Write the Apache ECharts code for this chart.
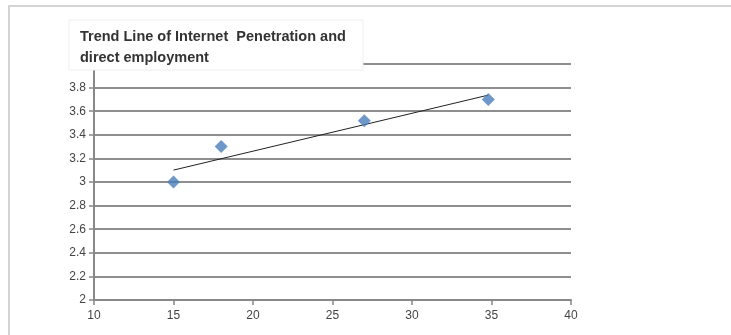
<!DOCTYPE html>
<html>
<head>
<meta charset="utf-8">
<script src="https://cdn.jsdelivr.net/npm/echarts@6/dist/echarts.min.js"></script>
<style>
  html, body { margin: 0; padding: 0; background: #fff; }
  #chart { width: 731px; height: 335px; }
</style>
</head>
<body>
<div id="chart"></div>
<script>
// Internet penetration (x) vs direct employment (y)
const penetration = [15, 18, 27, 34.8];
const employment = [3.0, 3.3, 3.52, 3.7];
const titleLines = ['Trend Line of Internet  Penetration and', 'direct employment'];

// least-squares trend line over the observed range
function trendLine(xs, ys) {
  const n = xs.length;
  const mx = xs.reduce((a, b) => a + b, 0) / n;
  const my = ys.reduce((a, b) => a + b, 0) / n;
  let sxx = 0, sxy = 0;
  for (let i = 0; i < n; i++) {
    sxx += (xs[i] - mx) * (xs[i] - mx);
    sxy += (xs[i] - mx) * (ys[i] - my);
  }
  const slope = sxy / sxx;
  const icpt = my - slope * mx;
  const x0 = Math.min(...xs), x1 = Math.max(...xs);
  return [[x0, icpt + slope * x0], [x1, icpt + slope * x1]];
}

const points = penetration.map((x, i) => [x, employment[i]]);
const fit = trendLine(penetration, employment);

const chart = echarts.init(document.getElementById('chart'), null, { renderer: 'canvas' });
const labelFont = { color: '#444', fontSize: 12, fontFamily: 'Liberation Sans, Arial, sans-serif' };

chart.setOption({
  animation: false,
  backgroundColor: '#fff',
  grid: { left: 94, right: 160, top: 64, bottom: 35 },
  xAxis: {
    type: 'value', min: 10, max: 40, interval: 5,
    axisLine: { show: true, lineStyle: { color: '#888', width: 2 } },
    axisTick: { show: true, inside: false, length: 5, lineStyle: { color: '#888', width: 1.5 } },
    axisLabel: Object.assign({ margin: 10 }, labelFont),
    splitLine: { show: false }
  },
  yAxis: {
    type: 'value', min: 2, max: 4, interval: 0.2,
    axisLine: { show: true, lineStyle: { color: '#888', width: 2 } },
    axisTick: { show: true, inside: false, length: 5, lineStyle: { color: '#888', width: 1.5 } },
    axisLabel: Object.assign({ margin: 8 }, labelFont),
    splitLine: { show: true, lineStyle: { color: '#8e8e8e', width: 2 } }
  },
  series: [
    {
      type: 'line',
      data: fit,
      symbol: 'none',
      lineStyle: { color: '#222', width: 1 },
      z: 3
    },
    {
      type: 'scatter',
      data: points,
      symbol: 'diamond',
      symbolSize: 13,
      itemStyle: { color: '#4a7ebb' },
      z: 4
    }
  ],
  graphic: [
    {
      type: 'polyline',
      shape: { points: [[9, 335], [9, 6], [731, 6]] },
      style: { stroke: '#d4d4d4', lineWidth: 2, fill: null },
      z: 10
    },
    {
      type: 'rect',
      shape: { x: 69, y: 20, width: 294, height: 50 },
      style: { fill: '#fff', stroke: '#eeeeee', lineWidth: 1 },
      z: 20
    },
    {
      type: 'text',
      left: 80, top: 26,
      style: {
        text: titleLines.join('\n'),
        fill: '#333',
        font: 'bold 14.5px "Liberation Sans", Arial, sans-serif',
        lineHeight: 21
      },
      z: 21
    }
  ]
});
</script>
</body>
</html>
